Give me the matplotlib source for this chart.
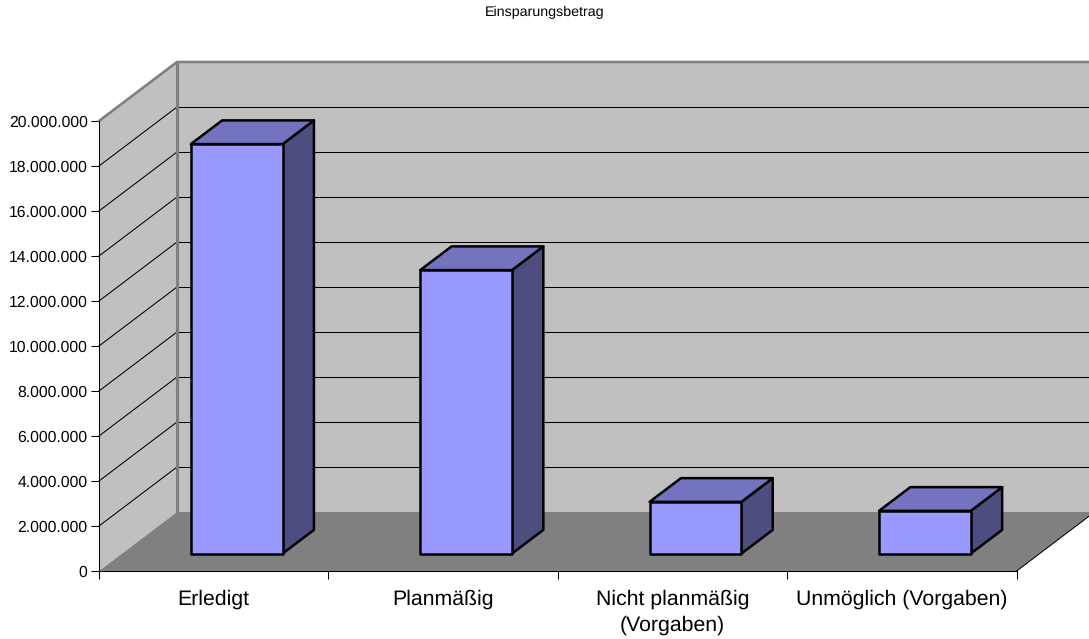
import matplotlib
matplotlib.use('Agg')
import matplotlib.pyplot as plt
from matplotlib.patches import Polygon

categorias = ['Erledigt', 'Planmäßig', 'Nicht planmäßig\n(Vorgaben)', 'Unmöglich (Vorgaben)']
einsparung = [18200000, 12600000, 2300000, 1900000]
y_ticks = [0, 2000000, 4000000, 6000000, 8000000, 10000000, 12000000, 14000000, 16000000, 18000000, 20000000]
y_labels = ['0', '2.000.000', '4.000.000', '6.000.000', '8.000.000', '10.000.000',
            '12.000.000', '14.000.000', '16.000.000', '18.000.000', '20.000.000']
titel = 'Einsparungsbetrag'

plt.rcParams['font.family'] = ['Liberation Sans', 'DejaVu Sans']
plt.rcParams['text.hinting'] = 'no_hinting'

# oblique projection: depth 0 is the front of the floor, depth 1 the back wall
TIEFE_X = 0.34
TIEFE_Y = 2622000
BALKEN_BREITE = 0.4
BALKEN_VORNE = 0.295
BALKEN_HINTEN = 0.697


def proj(x, y, z=0.0):
    return (x + z * TIEFE_X, y + z * TIEFE_Y)


def linie(pts, **kw):
    ax.plot([p[0] for p in pts], [p[1] for p in pts], **kw)


fig = plt.figure(figsize=(10.89, 6.39), dpi=100, facecolor='white')
ax = fig.add_axes([0, 0, 1, 1])
ax.patch.set_visible(False)
ax.set_xlim(-99 / 229.4, 990 / 229.4)
ax.set_ylim(-68 / 22.5 * 1e6, 571 / 22.5 * 1e6)

n = len(categorias)
y_max = y_ticks[-1]

# walls and floor
ax.add_patch(Polygon([proj(0, 0), proj(0, y_max), proj(0, y_max, 1), proj(0, 0, 1)],
                     facecolor='#c0c0c0', edgecolor='none', zorder=1))
ax.add_patch(Polygon([proj(0, 0, 1), proj(0, y_max, 1), proj(n, y_max, 1), proj(n, 0, 1)],
                     facecolor='#c0c0c0', edgecolor='none', zorder=1))
ax.add_patch(Polygon([proj(0, 0), proj(n, 0), proj(n, 0, 1), proj(0, 0, 1)],
                     facecolor='#808080', edgecolor='none', zorder=1))

# gridlines run along the side wall and across the back wall
for v in y_ticks[1:-1]:
    linie([proj(0, v), proj(0, v, 1)], color='black', lw=0.75, zorder=2)
    linie([proj(0, v, 1), proj(n, v, 1)], color='black', lw=0.75, zorder=2)

# grey wall frame
linie([proj(0, y_max), proj(0, y_max, 1), proj(n, y_max, 1)], color='#808080', lw=1.9, zorder=3)
linie([proj(0, y_max, 1), proj(0, 0, 1)], color='#808080', lw=2.2, zorder=3)

# edge of the floor on the right
linie([proj(n, 0), proj(n, 0, 1)], color='black', lw=0.75, zorder=3)

# columns
for i, wert in enumerate(einsparung):
    x0 = i + 0.5 - BALKEN_BREITE / 2
    x1 = i + 0.5 + BALKEN_BREITE / 2
    z0, z1 = BALKEN_VORNE, BALKEN_HINTEN
    flaechen = [
        ([proj(x1, 0, z0), proj(x1, wert, z0), proj(x1, wert, z1), proj(x1, 0, z1)], '#4d4d80'),
        ([proj(x0, wert, z0), proj(x1, wert, z0), proj(x1, wert, z1), proj(x0, wert, z1)], '#7373bf'),
        ([proj(x0, 0, z0), proj(x1, 0, z0), proj(x1, wert, z0), proj(x0, wert, z0)], '#9999ff'),
    ]
    for pts, farbe in flaechen:
        ax.add_patch(Polygon(pts, facecolor=farbe, edgecolor='black', lw=1.8,
                             joinstyle='round', zorder=4))

# axes sit on the front edge of the floor
for s in ['top', 'right']:
    ax.spines[s].set_visible(False)
ax.spines['left'].set_position(('data', 0))
ax.spines['left'].set_bounds(0, y_max)
ax.spines['bottom'].set_position(('data', 0))
ax.spines['bottom'].set_bounds(0, n)
for s in ['left', 'bottom']:
    ax.spines[s].set_linewidth(0.75)
    ax.spines[s].set_zorder(5)

ax.set_yticks(y_ticks, labels=y_labels)
ax.tick_params(axis='y', length=6, width=0.75, pad=2.2, labelsize=11.3, colors='black')
ax.set_xticks(range(n + 1), labels=[''] * (n + 1))
ax.set_xticks([i + 0.5 for i in range(n)], labels=categorias, minor=True)
ax.tick_params(axis='x', which='major', length=6, width=0.75)
ax.tick_params(axis='x', which='minor', length=0, pad=13, labelsize=15.3)
for lab in ax.get_xticklabels(minor=True):
    lab.set_linespacing(1.42)

fig.text(545 / 1089, 1 - 12 / 639, titel, fontsize=10.3, ha='center', va='center', color='black')

fig.savefig('out.png', dpi=100, facecolor='white')
